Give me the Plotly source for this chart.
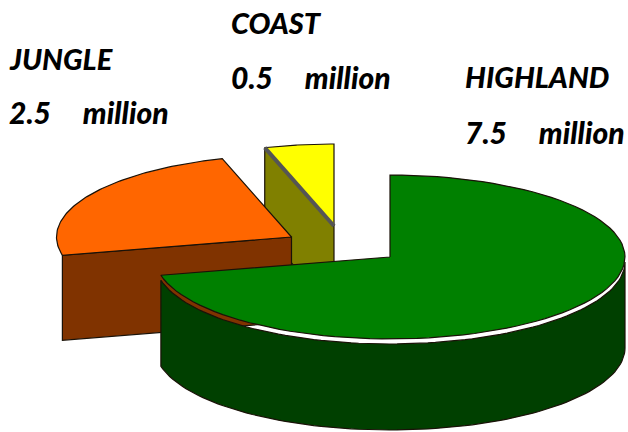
import numpy as np
import plotly.graph_objects as go

# Population by region, in millions
regions = ["HIGHLAND", "JUNGLE", "COAST"]
population = [7.5, 2.5, 0.5]
value_labels = [
    "7.5\u00a0\u00a0\u00a0\u00a0\u00a0million",
    "2.5\u00a0\u00a0\u00a0\u00a0\u00a0million",
    "0.5\u00a0\u00a0\u00a0\u00a0\u00a0million",
]

# Extruded pie geometry, in plot units
RX, RY = 235, 82
DEPTH = 91
CUT_DEPTH = 85
RIM_GAP = 5
HUB = {"HIGHLAND": (390, 257), "JUNGLE": (291.5, 237), "COAST": (334, 226)}

FACE = {"HIGHLAND": "#008000", "JUNGLE": "#ff6600", "COAST": "#ffff00"}
SIDE = {"HIGHLAND": "#004000", "JUNGLE": "#803300", "COAST": "#808000"}
EDGE = "#1a1208"

# Slices run clockwise from twelve o'clock
shares = np.array(population) / sum(population) * 360
ends = np.cumsum(shares)
starts = ends - shares
span = {r: (s, e) for r, s, e in zip(regions, starts, ends)}


def rim(hub, t0, t1, dy=0, n=90):
    th = np.radians(np.linspace(t0, t1, n))
    return hub[0] + RX * np.sin(th), hub[1] - RY * np.cos(th) + dy


def poly(fig, x, y, fill, line=EDGE, width=1.2):
    fig.add_trace(go.Scatter(
        x=np.r_[x, x[0]], y=np.r_[y, y[0]], mode="lines", fill="toself",
        fillcolor=fill, line=dict(color=line, width=width),
        hoverinfo="skip", showlegend=False,
    ))


def cut_wall(fig, region, theta):
    hub = HUB[region]
    ex, ey = rim(hub, theta, theta, n=1)
    x = np.array([ex[0], hub[0], hub[0], ex[0]])
    y = np.array([ey[0], hub[1], hub[1] + CUT_DEPTH, ey[0] + CUT_DEPTH])
    poly(fig, x, y, SIDE[region])


def face(fig, region):
    hub = HUB[region]
    s, e = span[region]
    ax, ay = rim(hub, s, e)
    poly(fig, np.r_[hub[0], ax], np.r_[hub[1], ay], FACE[region])


fig = go.Figure()

# Coast: cut wall, then the face with its heavier grey cut edge
cut_wall(fig, "COAST", span["COAST"][0])
face(fig, "COAST")
cx, cy = rim(HUB["COAST"], span["COAST"][0], span["COAST"][0], n=1)
fig.add_trace(go.Scatter(
    x=[cx[0], HUB["COAST"][0]], y=[cy[0], HUB["COAST"][1]], mode="lines",
    line=dict(color="#555555", width=4), hoverinfo="skip", showlegend=False,
))

# Jungle: cut wall behind the orange face
cut_wall(fig, "JUNGLE", span["JUNGLE"][0])
face(fig, "JUNGLE")

# Highland: outer wall, leaving a sliver between it and the face
s, e = span["HIGHLAND"]
wall_start = max(s, 90)
tx, ty = rim(HUB["HIGHLAND"], wall_start, e, dy=RIM_GAP)
bx, by = rim(HUB["HIGHLAND"], e, wall_start, dy=DEPTH)
poly(fig, np.r_[tx, bx], np.r_[ty, by], SIDE["HIGHLAND"])
face(fig, "HIGHLAND")

# Region names and values
label_pos = {"COAST": (229, 22, 77), "JUNGLE": (7, 58, 112), "HIGHLAND": (463, 76, 132)}
for region, text in zip(regions, value_labels):
    x, y_name, y_value = label_pos[region]
    for content, y, size in ((region, y_name, 29), (text, y_value, 30)):
        fig.add_annotation(
            x=x, y=y, text=content, showarrow=False, xanchor="left", yanchor="middle",
            font=dict(family="Lato", size=size, color="black", weight=900, style="italic"),
        )

fig.update_layout(
    width=628, height=432, margin=dict(l=0, r=0, t=0, b=0),
    paper_bgcolor="white", plot_bgcolor="white", showlegend=False,
    xaxis=dict(range=[0, 628], visible=False, fixedrange=True),
    yaxis=dict(range=[432, 0], visible=False, fixedrange=True),
)
fig.write_html("out.html", config={"displayModeBar": False})
